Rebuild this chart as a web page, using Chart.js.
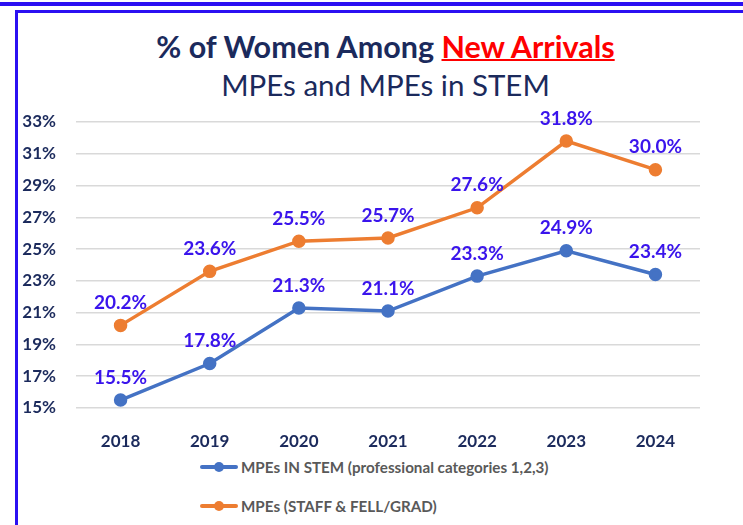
<!DOCTYPE html>
<html>
<head>
<meta charset="utf-8">
<script src="https://cdn.jsdelivr.net/npm/chart.js@4"></script>
<style>
  body { margin: 0; background: #fff; font-family: Lato, "Open Sans", sans-serif; }
  #page { position: relative; width: 743px; height: 525px; overflow: hidden; }
  #topline { position: absolute; left: 0; top: 2px; width: 743px; height: 4px; background: #2b10f2; }
  #frame { position: absolute; left: 15px; top: 10px; width: 760px; height: 540px;
           border-left: 3px solid #2b10f2; border-top: 3px solid #2b10f2; }
  #title { position: absolute; left: 0; width: 743px; top: 28px; text-align: center;
           font-size: 30.5px; font-weight: bold; color: #1b2a5c; padding-left: 28px; box-sizing: border-box; }
  #title span { color: #ff0000; text-decoration: underline; text-decoration-thickness: 2px; }
  #subtitle { position: absolute; left: 0; width: 743px; top: 67px; text-align: center;
              font-size: 29.5px; color: #1b2a5c; padding-left: 28px; box-sizing: border-box; }
  #wrap { position: absolute; left: 0; top: 100px; width: 743px; height: 350px; }
  #legend { position: absolute; left: 200px; top: 457px; font-size: 15.2px; font-weight: bold; color: #595959; }
  .item { display: flex; align-items: center; height: 20px; margin-bottom: 19px; }
  .sw { position: relative; width: 38px; height: 4px; margin-right: 3px; border-radius: 2px; }
  .sw i { position: absolute; left: 14px; top: -3px; width: 10px; height: 10px; border-radius: 50%; }
</style>
</head>
<body>
<div id="page">
  <div id="topline"></div>
  <div id="frame"></div>
  <div id="title">% of Women Among <span>New Arrivals</span></div>
  <div id="subtitle">MPEs and MPEs in STEM</div>
  <div id="wrap"><canvas id="chart"></canvas></div>
  <div id="legend"></div>
</div>
<script>
const years = ["2018", "2019", "2020", "2021", "2022", "2023", "2024"];
const stemValues = [15.5, 17.8, 21.3, 21.1, 23.3, 24.9, 23.4];
const mpeValues = [20.2, 23.6, 25.5, 25.7, 27.6, 31.8, 30.0];
const seriesNames = ["MPEs IN STEM (professional categories 1,2,3)", "MPEs (STAFF & FELL/GRAD)"];
const seriesColors = ["#4472c4", "#ed7d31"];

// draws the % labels above each point
const pointLabels = {
  id: "pointLabels",
  afterDatasetsDraw(chart) {
    const ctx = chart.ctx;
    ctx.save();
    ctx.font = "bold 19px Lato, 'Open Sans', sans-serif";
    ctx.fillStyle = "#3a14ec";
    ctx.textAlign = "center";
    ctx.textBaseline = "bottom";
    chart.data.datasets.forEach((ds, i) => {
      chart.getDatasetMeta(i).data.forEach((pt, j) => {
        ctx.fillText(ds.data[j].toFixed(1) + "%", pt.x, pt.y - 13);
      });
    });
    ctx.restore();
  }
};

const chart = new Chart(document.getElementById("chart"), {
  type: "line",
  data: {
    labels: years,
    datasets: [
      {
        label: seriesNames[0],
        data: stemValues,
        borderColor: seriesColors[0],
        backgroundColor: seriesColors[0],
        borderWidth: 3.5,
        pointRadius: 5,
        tension: 0,
      },
      {
        label: seriesNames[1],
        data: mpeValues,
        borderColor: seriesColors[1],
        backgroundColor: seriesColors[1],
        borderWidth: 3.5,
        pointRadius: 5,
        tension: 0,
      },
    ],
  },
  options: {
    responsive: true,
    maintainAspectRatio: false,
    animation: false,
    layout: { padding: { top: 0, right: 43, bottom: 0, left: 0 } },
    plugins: {
      legend: { display: false },
      tooltip: { enabled: false },
    },
    scales: {
      x: {
        offset: true,
        grid: { display: false },
        border: { display: false },
        ticks: { color: "#1b2a5c", font: { family: "Lato", size: 17, weight: "bold" }, padding: 15 },
        afterFit(scale) { scale.height = 42; },
      },
      y: {
        min: 15,
        max: 33,
        grid: { color: "#d9d9d9", lineWidth: 1.5, drawTicks: false },
        border: { display: false },
        ticks: {
          stepSize: 2,
          color: "#1b2a5c",
          font: { family: "Lato", size: 17, weight: "bold" },
          padding: 20,
          callback: (v) => v + "%",
        },
        // tick padding also pushes the top down, so fix it here
        afterFit(scale) { scale.width = 76; scale.paddingTop = 22; },
      },
    },
  },
  plugins: [pointLabels],
});

// legend, one item per line
const legend = document.getElementById("legend");
chart.data.datasets.forEach((ds) => {
  const row = document.createElement("div");
  row.className = "item";
  row.innerHTML = '<div class="sw" style="background:' + ds.borderColor + '"><i style="background:' + ds.borderColor + '"></i></div>' + ds.label;
  legend.appendChild(row);
});
</script>
</body>
</html>
